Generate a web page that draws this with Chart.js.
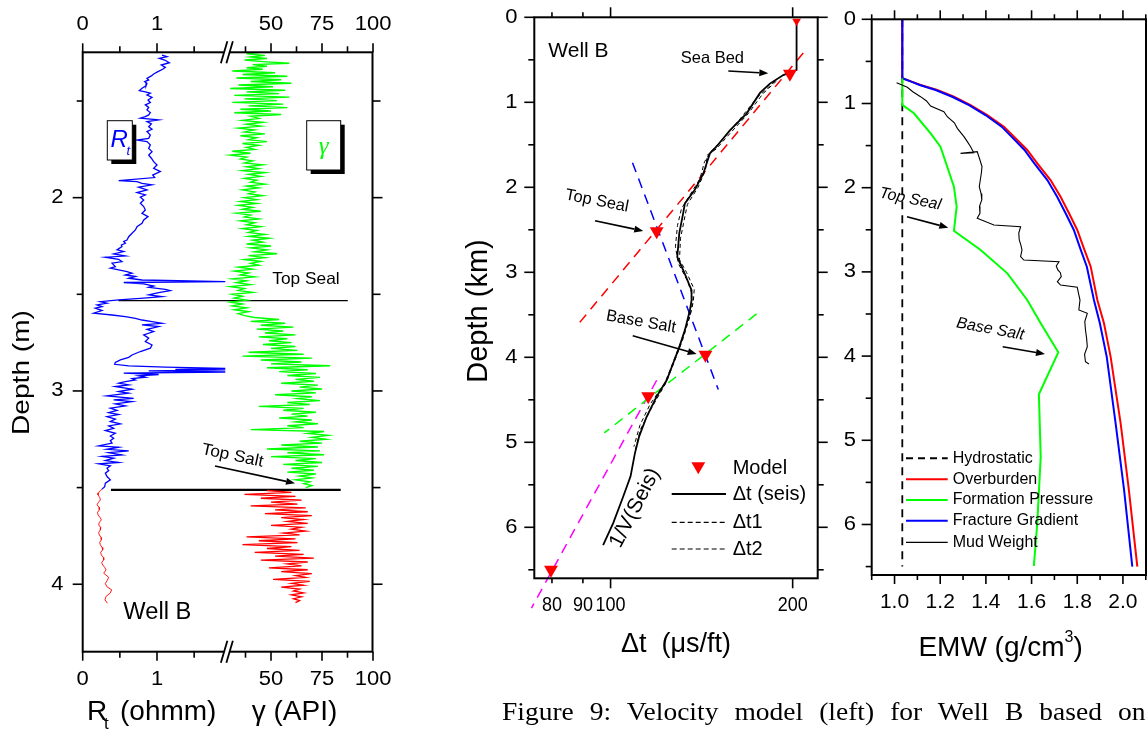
<!DOCTYPE html>
<html>
<head>
<meta charset="utf-8">
<script src="https://cdn.jsdelivr.net/npm/chart.js@4.4.0/dist/chart.umd.min.js"></script>
<style>
  html, body { margin: 0; padding: 0; background: #fff; }
  #wrap { position: relative; width: 1147px; height: 734px; overflow: hidden; }
  canvas { position: absolute; left: 0; top: 0; }
  #caption { position: absolute; left: 502px; top: 699px; width: 585px;
    transform: scaleX(1.1); transform-origin: 0 0;
    font-family: "Liberation Serif", "Times New Roman", serif; font-size: 25px; line-height: 25px;
    text-align: justify; text-align-last: justify; color: #000; }
</style>
</head>
<body>
<div id="wrap">
  <canvas id="logChart" width="1147" height="734"></canvas>
  <canvas id="velChart" width="1147" height="734"></canvas>
  <canvas id="emwChart" width="1147" height="734"></canvas>
  <div id="caption">Figure 9: Velocity model (left) for Well B based on</div>
</div>
<script>
// ---------- left panel: well log, [depth, value] ----------
const rtShale = [[1.262,1.067],[1.270,1.135],[1.279,1.031],[1.288,1.103],[1.302,1.166],[1.314,1.058],[1.326,1.112],[1.336,1.076],[1.348,1.013],[1.360,0.955],[1.370,0.924],[1.383,0.865],[1.391,0.888],[1.400,0.834],[1.408,0.865],[1.422,0.852],[1.434,0.798],[1.446,0.762],[1.453,0.843],[1.460,0.910],[1.469,0.865],[1.481,0.933],[1.495,0.879],[1.508,0.910],[1.520,0.843],[1.533,0.888],[1.546,0.865],[1.560,0.910],[1.572,0.888],[1.581,0.843],[1.589,0.776],[1.598,1.022],[1.607,0.865],[1.619,0.924],[1.633,0.888],[1.646,0.933],[1.658,0.865],[1.676,0.910],[1.693,0.888],[1.702,0.731],[1.710,0.865],[1.727,0.910],[1.745,0.888],[1.762,0.933],[1.779,0.888],[1.796,0.924],[1.814,0.955],[1.831,1.000],[1.848,0.955],[1.865,1.045],[1.883,0.942],[1.896,0.969],[1.912,0.484],[1.917,0.731],[1.926,0.798],[1.934,0.933],[1.946,0.753],[1.960,0.865],[1.974,0.731],[1.986,0.843],[1.998,0.776],[2.012,0.821],[2.029,0.776],[2.046,0.821],[2.064,0.843],[2.081,0.798],[2.098,0.879],[2.115,0.821],[2.133,0.798],[2.150,0.731],[2.167,0.709],[2.184,0.664],[2.202,0.619],[2.219,0.596],[2.227,0.552],[2.236,0.574],[2.245,0.520],[2.253,0.529],[2.270,0.462],[2.279,0.552],[2.291,0.417],[2.302,0.574],[2.308,0.305],[2.319,0.484],[2.331,0.529],[2.339,0.395],[2.357,0.439],[2.365,0.372],[2.374,0.484],[2.383,0.596],[2.391,0.664],[2.400,0.574],[2.408,0.709],[2.417,0.619],[2.426,0.798],[2.434,1.919],[2.439,0.552],[2.446,0.821],[2.457,0.955],[2.464,0.888],[2.474,1.112],[2.481,1.179],[2.491,1.022],[2.503,0.888],[2.512,1.067],[2.520,0.821],[2.529,0.484],[2.538,0.238],[2.546,0.327],[2.555,0.193],[2.564,0.260],[2.572,0.170],[2.584,0.260],[2.598,0.148],[2.607,0.395],[2.615,0.574],[2.624,0.709],[2.633,0.798],[2.641,0.933],[2.650,1.067],[2.658,0.798],[2.667,1.022],[2.681,0.865],[2.693,0.955],[2.710,0.821],[2.727,0.888],[2.745,0.843],[2.762,0.933],[2.779,0.910],[2.796,0.776],[2.814,0.664],[2.826,0.619],[2.839,0.507],[2.853,0.439],[2.862,0.430],[2.870,0.619],[2.877,1.112],[2.883,1.919],[2.888,1.247],[2.891,1.919],[2.896,0.888],[2.902,1.919],[2.908,0.552],[2.915,1.022],[2.922,0.753],[2.929,0.843],[2.936,0.664],[2.943,0.709],[2.952,0.574],[2.960,0.484],[2.969,0.619],[2.977,0.439],[2.991,0.664],[3.003,0.484],[3.012,0.619],[3.026,0.327],[3.038,0.686],[3.046,0.417],[3.055,0.664],[3.067,0.439],[3.077,0.574],[3.089,0.372],[3.101,0.462],[3.112,0.350],[3.122,0.484],[3.133,0.327],[3.146,0.439],[3.158,0.372],[3.170,0.507],[3.181,0.350],[3.193,0.417],[3.205,0.305],[3.219,0.439],[3.233,0.372],[3.245,0.417],[3.257,0.372],[3.270,0.395],[3.284,0.215],[3.291,0.484],[3.302,0.327],[3.310,0.619],[3.319,0.350],[3.331,0.529],[3.339,0.260],[3.348,0.417],[3.360,0.305],[3.370,0.484],[3.377,0.215],[3.388,0.372],[3.400,0.327],[3.412,0.350],[3.426,0.305],[3.443,0.327],[3.460,0.372],[3.477,0.305],[3.495,0.296],[3.508,0.260]];
const rtSalt = [[3.508,0.260],[3.515,0.238],[3.527,0.215],[3.538,0.206],[3.551,0.229],[3.564,0.238],[3.577,0.211],[3.589,0.193],[3.602,0.220],[3.615,0.224],[3.628,0.200],[3.641,0.206],[3.654,0.233],[3.667,0.251],[3.680,0.224],[3.693,0.215],[3.706,0.242],[3.719,0.238],[3.732,0.215],[3.745,0.224],[3.758,0.247],[3.770,0.251],[3.783,0.229],[3.796,0.238],[3.809,0.260],[3.822,0.269],[3.835,0.242],[3.848,0.251],[3.861,0.278],[3.874,0.283],[3.887,0.256],[3.900,0.269],[3.913,0.296],[3.926,0.314],[3.943,0.283],[3.964,0.350],[3.980,0.330],[3.996,0.305],[4.012,0.323],[4.029,0.390],[4.046,0.370],[4.063,0.314],[4.081,0.300],[4.098,0.332]];
const gammaShale = [[1.248,45],[1.256,38],[1.264,47],[1.272,40],[1.280,48],[1.288,37],[1.296,46],[1.305,59],[1.312,41],[1.320,48],[1.328,38],[1.336,46],[1.345,31],[1.354,52],[1.363,36],[1.372,58],[1.381,33],[1.390,55],[1.399,40],[1.408,60],[1.417,34],[1.426,51],[1.435,30],[1.444,57],[1.453,38],[1.462,54],[1.471,32],[1.480,59],[1.489,37],[1.498,53],[1.507,31],[1.516,56],[1.525,39],[1.534,58],[1.543,35],[1.552,50],[1.561,32],[1.570,55],[1.579,40],[1.590,44],[1.600,36],[1.610,46],[1.620,38],[1.630,45],[1.640,34],[1.650,42],[1.660,37],[1.670,47],[1.680,35],[1.690,43],[1.700,39],[1.710,48],[1.720,36],[1.730,44],[1.740,38],[1.750,42],[1.760,31],[1.770,40],[1.780,30],[1.790,38],[1.800,35],[1.810,41],[1.820,37],[1.830,46],[1.840,38],[1.850,44],[1.860,36],[1.870,47],[1.880,39],[1.890,45],[1.900,37],[1.910,43],[1.920,40],[1.930,47],[1.940,38],[1.950,44],[1.960,36],[1.970,42],[1.980,39],[1.990,46],[2.000,37],[2.010,43],[2.020,35],[2.030,43],[2.040,34],[2.050,41],[2.060,36],[2.070,45],[2.080,33],[2.090,40],[2.100,37],[2.110,44],[2.120,35],[2.130,42],[2.140,38],[2.150,45],[2.160,36],[2.170,43],[2.180,39],[2.190,47],[2.200,39],[2.210,49],[2.220,41],[2.230,46],[2.240,38],[2.250,50],[2.260,40],[2.270,48],[2.280,42],[2.290,53],[2.300,39],[2.310,47],[2.320,37],[2.330,45],[2.340,40],[2.350,44],[2.360,34],[2.370,41],[2.380,32],[2.390,39],[2.400,35],[2.410,42],[2.420,31],[2.430,38],[2.440,33],[2.450,40],[2.460,30],[2.470,37],[2.480,34],[2.490,41],[2.500,31],[2.510,36],[2.520,32],[2.530,38],[2.540,30],[2.550,36],[2.560,31],[2.570,38],[2.580,32],[2.590,39],[2.600,34],[2.610,37],[2.620,42],[2.630,54],[2.640,40],[2.650,57],[2.660,45],[2.670,61],[2.680,43],[2.690,56],[2.700,47],[2.710,62],[2.720,44],[2.730,58],[2.740,49],[2.750,60],[2.760,46],[2.770,62],[2.780,50],[2.790,63],[2.800,39],[2.810,66],[2.820,36],[2.830,70],[2.840,45],[2.850,65],[2.860,50],[2.870,79],[2.880,48],[2.890,68],[2.900,54],[2.910,72],[2.920,58],[2.930,74],[2.940,62],[2.950,71],[2.960,55],[2.970,73],[2.980,64],[2.990,75],[3.000,60],[3.010,72],[3.020,52],[3.030,70],[3.040,63],[3.050,74],[3.060,58],[3.070,69],[3.080,44],[3.090,66],[3.100,56],[3.110,72],[3.120,60],[3.130,68],[3.140,54],[3.150,70],[3.160,62],[3.170,73],[3.180,58],[3.190,66],[3.200,40],[3.210,76],[3.220,68],[3.230,78],[3.240,70],[3.250,77],[3.260,64],[3.270,75],[3.280,55],[3.290,73],[3.300,48],[3.310,74],[3.320,58],[3.330,76],[3.340,50],[3.350,72],[3.360,62],[3.370,75],[3.380,56],[3.390,73],[3.400,60],[3.410,71],[3.420,58],[3.430,72],[3.440,64],[3.450,70],[3.460,62],[3.470,69],[3.480,66],[3.490,70],[3.500,67]];
const gammaSalt = [[3.515,48],[3.525,60],[3.535,37],[3.545,62],[3.555,45],[3.565,65],[3.575,50],[3.585,63],[3.595,40],[3.605,67],[3.615,52],[3.625,68],[3.635,47],[3.645,70],[3.655,55],[3.665,66],[3.675,58],[3.685,68],[3.695,50],[3.705,65],[3.715,60],[3.725,67],[3.735,56],[3.745,64],[3.755,38],[3.765,62],[3.775,44],[3.785,63],[3.795,36],[3.805,60],[3.815,48],[3.825,64],[3.835,42],[3.845,66],[3.855,52],[3.865,71],[3.875,45],[3.885,68],[3.895,58],[3.905,65],[3.915,49],[3.925,68],[3.935,55],[3.945,70],[3.955,62],[3.965,67],[3.975,51],[3.985,69],[3.995,60],[4.005,66],[4.015,55],[4.025,64],[4.035,61],[4.045,66],[4.055,60],[4.065,65],[4.075,61],[4.085,64],[4.095,62]];
// horizon markers: [depth, Rt from, Rt to]
const topSealLine = [2.533, 0.48, 3.567];
const topSaltLine = [3.512, 0.38, 3.472];
const rtTicks = [0, 1], rtMinor = [0.5, 1.5];
const gammaTicks = [50, 75, 100], gammaMinor = [37.5, 62.5, 87.5];
const logDepthTicks = [2, 3, 4], logDepthMinor = [1.5, 2.5, 3.5];
const rtBreak = 1.94;

// ---------- middle panel: velocity model, [dt (us/ft), depth (km)] ----------
const modelPts = [[203,0.047],[197.9,0.665],[119.2,2.518],[143.5,3.969],[115.4,4.459],[79.7,6.5]];
const dtSeis = [[203,0.047],[203,0.62],[193,0.68],[183.4,0.78],[176.6,0.89],[167.9,1.13],[157.5,1.33],[149.7,1.52],[146,1.6],[142.3,1.84],[137.8,2.03],[132.7,2.19],[131.8,2.31],[129.9,2.54],[128.9,2.82],[131.8,2.97],[136.1,3.21],[136.1,3.33],[135.3,3.44],[132.7,3.68],[129.9,3.88],[126.9,4.07],[123.8,4.27],[119.2,4.46],[114.7,4.70],[111.5,4.93],[109.7,5.13],[107.9,5.40],[104.9,5.64],[101,5.95],[97.2,6.21]];
const dt1 = [[188,0.75],[178.5,0.9],[169,1.13],[156,1.4],[149.5,1.55],[144.5,1.62],[143.5,1.8],[139.5,2.0],[134,2.2],[133,2.31],[130.5,2.6],[130,2.85],[133.5,3.0],[137.5,3.2],[137,3.35],[135.4,3.5],[131,3.8],[127,4.05],[123,4.3],[116.3,4.55],[111.8,4.8],[109.3,5.05]];
const dt2 = [[187,0.75],[174.5,0.95],[163.5,1.2],[152.5,1.45],[146.5,1.58],[143,1.7],[140.5,1.9],[135,2.1],[131,2.25],[129,2.45],[128,2.7],[129.5,2.9],[134,3.1],[137,3.3],[135.5,3.5],[131.5,3.8],[127.5,4.05],[123.5,4.3],[116.8,4.6],[112,4.85],[109.8,5.1]];
const trendRed = [[208.2,0.42],[88.9,3.59]];
const trendBlue = [[108.7,1.71],[150.7,4.38]];
const trendGreen = [[174.3,3.49],[97.6,4.89]];
const trendMagenta = [[119.2,4.27],[74.0,6.95]];
const dtLabels = [80, 90, 100, 200], dtMajor = [100, 200], dtMinor = [80, 90];
const depthTicks = [0, 1, 2, 3, 4, 5, 6], depthMinor = [0.5, 1.5, 2.5, 3.5, 4.5, 5.5, 6.5];

// ---------- right panel: EMW, [depth (km), g/cm3] ----------
const hydrostatic = [[0,1.034],[6.5,1.034]];
const overburden = [[0,1.034],[0.70,1.034],[0.74,1.075],[0.78,1.114],[0.84,1.187],[0.92,1.26],[1.02,1.333],[1.137,1.406],[1.275,1.479],[1.394,1.523],[1.552,1.581],[1.71,1.625],[1.909,1.683],[2.107,1.727],[2.304,1.764],[2.502,1.80],[2.72,1.829],[2.938,1.859],[3.334,1.888],[3.61,1.917],[4.007,1.946],[4.798,1.99],[5.59,2.026],[6.501,2.063]];
const fracture = [[0,1.034],[0.70,1.034],[0.74,1.073],[0.78,1.110],[0.84,1.18],[0.92,1.252],[1.02,1.326],[1.137,1.398],[1.275,1.469],[1.394,1.512],[1.552,1.569],[1.71,1.612],[1.909,1.669],[2.107,1.712],[2.304,1.749],[2.502,1.785],[2.72,1.813],[2.938,1.842],[3.334,1.873],[3.61,1.899],[4.007,1.929],[4.798,1.968],[5.59,2.005],[6.501,2.041]];
const formation = [[0.70,1.034],[1.017,1.034],[1.116,1.085],[1.354,1.158],[1.513,1.201],[1.632,1.216],[1.988,1.26],[2.226,1.272],[2.511,1.26],[2.74,1.377],[3.017,1.494],[3.334,1.581],[3.61,1.64],[3.955,1.717],[4.454,1.632],[5.195,1.64],[5.986,1.625],[6.493,1.61]];
const mudWeight = [[0.753,1.009],[0.808,1.056],[0.86,1.08],[0.919,1.114],[0.97,1.14],[1.03,1.158],[1.097,1.216],[1.157,1.231],[1.23,1.262],[1.295,1.275],[1.394,1.304],[1.45,1.318],[1.513,1.333],[1.584,1.347],[1.592,1.289],[1.572,1.362],[1.671,1.374],[1.75,1.383],[1.829,1.38],[1.9,1.376],[1.988,1.371],[2.07,1.379],[2.146,1.382],[2.22,1.372],[2.304,1.374],[2.363,1.362],[2.443,1.435],[2.463,1.552],[2.54,1.544],[2.621,1.546],[2.68,1.553],[2.74,1.558],[2.819,1.552],[2.859,1.566],[2.879,1.72],[2.93,1.708],[2.977,1.715],[3.01,1.726],[3.057,1.73],[3.116,1.713],[3.156,1.727],[3.183,1.80],[3.26,1.806],[3.334,1.812],[3.452,1.807],[3.492,1.844],[3.59,1.833],[3.69,1.836],[3.79,1.841],[3.888,1.844],[3.98,1.832],[4.067,1.836],[4.094,1.851]];
const emwTicks = [1.0, 1.2, 1.4, 1.6, 1.8, 2.0], emwMinor = [0.9, 1.1, 1.3, 1.5, 1.7, 1.9, 2.1];
const emwLegend = ['Hydrostatic', 'Overburden', 'Formation Pressure', 'Fracture Gradient', 'Mud Weight'];

// ---------- drawing helpers ----------
const FONT = '"Liberation Sans", Arial, Helvetica, sans-serif';
function txt(ctx, s, x, y, o = {}) {
  ctx.save();
  ctx.translate(x, y);
  if (o.rot) ctx.rotate(o.rot * Math.PI / 180);
  ctx.scale(o.sx || 1, 1);
  ctx.font = (o.style || '') + ' ' + (o.size || 19) + 'px ' + (o.family || FONT);
  ctx.fillStyle = o.color || '#000';
  ctx.textAlign = o.align || 'center';
  ctx.textBaseline = o.base || 'middle';
  ctx.fillText(s, 0, 0);
  ctx.restore();
}
function seg(ctx, x1, y1, x2, y2, lw, color, dash) {
  ctx.save();
  ctx.strokeStyle = color || '#000';
  ctx.lineWidth = lw || 1.5;
  ctx.setLineDash(dash || []);
  ctx.beginPath(); ctx.moveTo(x1, y1); ctx.lineTo(x2, y2); ctx.stroke();
  ctx.restore();
}
function arrow(ctx, x1, y1, x2, y2) {
  const a = Math.atan2(y2 - y1, x2 - x1), h = 9, w = 3.5;
  const bx = x2 - h * Math.cos(a), by = y2 - h * Math.sin(a);
  seg(ctx, x1, y1, bx, by, 1.6);
  ctx.save();
  ctx.fillStyle = '#000';
  ctx.beginPath();
  ctx.moveTo(x2, y2);
  ctx.lineTo(bx + w * Math.sin(a), by - w * Math.cos(a));
  ctx.lineTo(bx - w * Math.sin(a), by + w * Math.cos(a));
  ctx.closePath(); ctx.fill();
  ctx.restore();
}
function frame(ctx, a) {
  ctx.save();
  ctx.strokeStyle = '#000'; ctx.lineWidth = 2;
  ctx.strokeRect(a.left, a.top, a.right - a.left, a.bottom - a.top);
  ctx.restore();
}
function ticksX(ctx, sc, vals, y, dir, len) {
  vals.forEach(v => { const p = sc.getPixelForValue(v); seg(ctx, p, y, p, y + dir * len, 1.6); });
}
function ticksY(ctx, sc, vals, x, dir, len) {
  vals.forEach(v => { const p = sc.getPixelForValue(v); seg(ctx, x, p, x + dir * len, p, 1.6); });
}
function shadowBox(ctx, x, y, w, h) {
  ctx.save();
  ctx.fillStyle = '#000'; ctx.fillRect(x + 4, y + 4, w, h);
  ctx.fillStyle = '#fff'; ctx.fillRect(x, y, w, h);
  ctx.strokeStyle = '#000'; ctx.lineWidth = 1; ctx.strokeRect(x, y, w, h);
  ctx.restore();
}
function downTriangle(ctx, x, y, r) {
  ctx.save();
  ctx.fillStyle = '#ff0000';
  ctx.beginPath();
  ctx.moveTo(x - r * 0.866, y - r * 0.5);
  ctx.lineTo(x + r * 0.866, y - r * 0.5);
  ctx.lineTo(x, y + r);
  ctx.closePath(); ctx.fill();
  ctx.restore();
}
const pts = (arr, xi, yi) => arr.map(p => ({ x: p[xi], y: p[yi] }));
const baseOpts = (pad, scales) => ({
  responsive: false, animation: false, events: [],
  layout: { padding: pad },
  scales,
  plugins: { legend: { display: false }, tooltip: { enabled: false } },
  elements: { point: { radius: 0 }, line: { tension: 0 } }
});
const lineDs = (data, color, lw, extra = {}) => Object.assign({
  data, showLine: true, borderColor: color, backgroundColor: color, borderWidth: lw,
  pointRadius: 0, fill: false
}, extra);
const TICK = { size: 20, sx: 1.1 };

// ---------- left chart ----------
const logDeco = {
  id: 'logDeco',
  afterDatasetsDraw(chart) {
    const ctx = chart.ctx;
    shadowBox(ctx, 107.3, 120.7, 25, 39.3);
    txt(ctx, 'R', 110.5, 147, { size: 24, style: 'italic', color: '#0000ff', align: 'left', base: 'alphabetic' });
    txt(ctx, 't', 126.5, 154.5, { size: 13, style: 'italic', color: '#0000ff', align: 'left', base: 'alphabetic' });
    shadowBox(ctx, 306.7, 120.7, 34, 49.3);
    txt(ctx, 'γ', 323.7, 147, { size: 25, style: 'italic', color: '#00ff00', family: '"Liberation Serif", serif' });
  },
  afterDraw(chart) {
    const ctx = chart.ctx, a = chart.chartArea;
    const xR = chart.scales.xR, xG = chart.scales.xG, y = chart.scales.y;
    frame(ctx, a);
    [[a.top, -1], [a.bottom, 1]].forEach(([yy, dir]) => {
      ticksX(ctx, xR, rtTicks, yy, dir, 9); ticksX(ctx, xR, rtMinor, yy, dir, 6);
      ticksX(ctx, xG, gammaTicks, yy, dir, 9); ticksX(ctx, xG, gammaMinor, yy, dir, 6);
      const bx = xR.getPixelForValue(rtBreak);
      ctx.save(); ctx.fillStyle = '#fff'; ctx.fillRect(bx - 3, yy - 3, 6, 6); ctx.restore();
      seg(ctx, bx - 6, yy + 11, bx + 0.5, yy - 11, 1.8);
      seg(ctx, bx - 0.5, yy + 11, bx + 6, yy - 11, 1.8);
    });
    ticksY(ctx, y, logDepthTicks, a.left, -1, 10); ticksY(ctx, y, logDepthMinor, a.left, -1, 6);
    ticksY(ctx, y, logDepthTicks, a.right, 1, 10); ticksY(ctx, y, logDepthMinor, a.right, 1, 8);
    [[24.7], [679]].forEach(([ly]) => {
      rtTicks.forEach(v => txt(ctx, String(v), xR.getPixelForValue(v), ly, TICK));
      gammaTicks.forEach(v => txt(ctx, String(v), xG.getPixelForValue(v), ly, TICK));
    });
    logDepthTicks.forEach(v => txt(ctx, String(v), 63.5, y.getPixelForValue(v), Object.assign({ align: 'right' }, TICK)));
    txt(ctx, 'Depth (m)', 22.5, 372.5, { size: 24, sx: 1.17, rot: -90 });
    txt(ctx, 'R', 87, 720, { size: 28, align: 'left', base: 'alphabetic' });
    txt(ctx, 't', 104, 729, { size: 17, align: 'left', base: 'alphabetic' });
    txt(ctx, '(ohmm)', 120, 720, { size: 28, align: 'left', base: 'alphabetic' });
    txt(ctx, 'γ (API)', 251.7, 720, { size: 28, align: 'left', base: 'alphabetic' });
    txt(ctx, 'Top Seal', 306, 279.3, { size: 16.5, sx: 1.05 });
    txt(ctx, 'Top Salt', 232.5, 455.8, { size: 16.5, sx: 1.05, rot: 12 });
    arrow(ctx, 215, 466, 295, 483.3);
    txt(ctx, 'Well B', 123.3, 612.7, { size: 23, sx: 1.03, align: 'left' });
  }
};
new Chart(document.getElementById('logChart'), {
  type: 'scatter',
  data: { datasets: [
    lineDs(pts(rtShale, 1, 0), '#0000ff', 1.3, { xAxisID: 'xR', yAxisID: 'y' }),
    lineDs(pts(rtSalt, 1, 0), '#ff0000', 0.9, { xAxisID: 'xR', yAxisID: 'y' }),
    lineDs(pts(gammaShale, 1, 0), '#00ff00', 1.4, { xAxisID: 'xG', yAxisID: 'y' }),
    lineDs(pts(gammaSalt, 1, 0), '#ff0000', 1.3, { xAxisID: 'xG', yAxisID: 'y' }),
    lineDs([{ x: topSealLine[1], y: topSealLine[0] }, { x: topSealLine[2], y: topSealLine[0] }], '#000', 1.2, { xAxisID: 'xR', yAxisID: 'y' }),
    lineDs([{ x: topSaltLine[1], y: topSaltLine[0] }, { x: topSaltLine[2], y: topSaltLine[0] }], '#000', 2.2, { xAxisID: 'xR', yAxisID: 'y' })
  ] },
  options: baseOpts({ left: 82.7, top: 52.3, right: 1147 - 372.5, bottom: 734 - 651.7 }, {
    xR: { axis: 'x', type: 'linear', position: 'bottom', min: 0, max: 3.9, display: false },
    xG: { axis: 'x', type: 'linear', position: 'bottom', min: -42.3, max: 99.75, display: false },
    y: { axis: 'y', type: 'linear', reverse: true, min: 1.248, max: 4.349, display: false }
  }),
  plugins: [logDeco]
});

// ---------- middle chart ----------
const velDeco = {
  id: 'velDeco',
  afterDraw(chart) {
    const ctx = chart.ctx, a = chart.chartArea, x = chart.scales.x, y = chart.scales.y;
    frame(ctx, a);
    ticksY(ctx, y, depthTicks, a.left, -1, 10); ticksY(ctx, y, depthMinor, a.left, -1, 6);
    ticksY(ctx, y, depthTicks, a.right, 1, 10); ticksY(ctx, y, depthMinor, a.right, 1, 6);
    ticksX(ctx, x, dtMajor, a.top, -1, 10); ticksX(ctx, x, dtMinor, a.top, -1, 5);
    ticksX(ctx, x, dtMajor, a.bottom, 1, 10); ticksX(ctx, x, dtMinor, a.bottom, 1, 5);
    depthTicks.forEach(v => txt(ctx, String(v), 517.5, y.getPixelForValue(v), Object.assign({ align: 'right' }, TICK)));
    dtLabels.forEach(v => txt(ctx, String(v), x.getPixelForValue(v), 605.5, { size: 20, sx: 0.9 }));
    txt(ctx, 'Depth (km)', 479, 311, { size: 29, rot: -90 });
    txt(ctx, 'Δt  (μs/ft)', 676, 645, { size: 27 });
    txt(ctx, 'Well B', 548.3, 51.7, { size: 21, align: 'left' });
    txt(ctx, 'Sea Bed', 680.7, 58.3, { size: 16.5, align: 'left' });
    arrow(ctx, 728.3, 71, 768.3, 73.3);
    txt(ctx, 'Top Seal', 597, 201, { size: 16.5, rot: 11 });
    arrow(ctx, 595, 220.7, 643.3, 231);
    txt(ctx, 'Base Salt', 641, 322, { size: 16.5, rot: 10 });
    arrow(ctx, 632.7, 335.7, 696.7, 354);
    txt(ctx, '1/V(Seis)', 635, 508, { size: 21, rot: -62.6 });
    // legend
    downTriangle(ctx, 698.3, 466.3, 8);
    txt(ctx, 'Model', 732.7, 468, { size: 20, align: 'left' });
    seg(ctx, 671.7, 494, 726, 494, 2);
    txt(ctx, 'Δt (seis)', 732.7, 494, { size: 20, align: 'left' });
    seg(ctx, 671.7, 522.3, 726, 522.3, 1.2, '#000', [5, 3]);
    txt(ctx, 'Δt1', 732.7, 522.3, { size: 20, align: 'left' });
    seg(ctx, 671.7, 549, 726, 549, 1.2, '#000', [5, 3]);
    txt(ctx, 'Δt2', 732.7, 549, { size: 20, align: 'left' });
  }
};
new Chart(document.getElementById('velChart'), {
  type: 'scatter',
  data: { datasets: [
    { data: pts(modelPts, 0, 1), pointStyle: 'triangle', rotation: 180, pointRadius: [5, 8, 8, 8, 8, 8],
      backgroundColor: '#ff0000', borderWidth: 0, borderColor: '#ff0000', order: 0 },
    lineDs(pts(dtSeis, 0, 1), '#000', 1.8, { order: 1 }),
    lineDs(pts(dt1, 0, 1), '#000', 1, { borderDash: [4, 3], order: 2 }),
    lineDs(pts(dt2, 0, 1), '#000', 1, { borderDash: [4, 3], order: 2 }),
    lineDs(pts(trendRed, 0, 1), '#ff0000', 1.5, { borderDash: [10, 7], order: 3 }),
    lineDs(pts(trendBlue, 0, 1), '#0000ff', 1.5, { borderDash: [10, 7], order: 3 }),
    lineDs(pts(trendGreen, 0, 1), '#00ff00', 1.5, { borderDash: [10, 7], order: 3 }),
    lineDs(pts(trendMagenta, 0, 1), '#ff00ff', 1.5, { borderDash: [10, 7], order: 3, clip: false })
  ] },
  options: baseOpts({ left: 534.3, top: 17.3, right: 1147 - 817.7, bottom: 734 - 578.3 }, {
    x: { type: 'logarithmic', min: 74.8, max: 220, display: false },
    y: { type: 'linear', reverse: true, min: 0, max: 6.6, display: false }
  }),
  plugins: [velDeco]
});

// ---------- right chart ----------
const emwDeco = {
  id: 'emwDeco',
  afterDraw(chart) {
    const ctx = chart.ctx, a = chart.chartArea, x = chart.scales.x, y = chart.scales.y;
    frame(ctx, a);
    ticksY(ctx, y, depthTicks, a.left, -1, 10); ticksY(ctx, y, depthMinor, a.left, -1, 6);
    ticksX(ctx, x, emwTicks, a.top, -1, 9); ticksX(ctx, x, emwMinor, a.top, -1, 5);
    ticksX(ctx, x, emwTicks, a.bottom, 1, 9); ticksX(ctx, x, emwMinor, a.bottom, 1, 5);
    depthTicks.forEach(v => txt(ctx, String(v), 856, y.getPixelForValue(v), Object.assign({ align: 'right' }, TICK)));
    emwTicks.forEach(v => txt(ctx, v.toFixed(1), x.getPixelForValue(v), 602, { size: 20, sx: 1.05 }));
    // title with superscript
    ctx.save();
    ctx.font = '28px ' + FONT;
    const w1 = ctx.measureText('EMW (g/cm').width;
    ctx.font = '16px ' + FONT;
    const w2 = ctx.measureText('3').width;
    ctx.font = '28px ' + FONT;
    const w3 = ctx.measureText(')').width;
    ctx.restore();
    const x0 = 1000.6 - (w1 + w2 + w3) / 2;
    txt(ctx, 'EMW (g/cm', x0, 656, { size: 28, align: 'left', base: 'alphabetic' });
    txt(ctx, '3', x0 + w1, 642, { size: 16, align: 'left', base: 'alphabetic' });
    txt(ctx, ')', x0 + w1 + w2, 656, { size: 28, align: 'left', base: 'alphabetic' });
    txt(ctx, 'Top Seal', 910.2, 199.2, { size: 16, style: 'italic', rot: 11.5 });
    arrow(ctx, 907, 216.7, 948.3, 227.7);
    txt(ctx, 'Base Salt', 990.3, 329.2, { size: 16, style: 'italic', rot: 10.5 });
    arrow(ctx, 1002.7, 346.7, 1045, 354);
    // legend
    const rows = [458.3, 479.3, 500, 520.7, 542.3];
    const styles = [['#000', 2, [7, 5]], ['#ff0000', 2, []], ['#00ff00', 2, []], ['#0000ff', 2, []], ['#000', 1.2, []]];
    emwLegend.forEach((lab, i) => {
      seg(ctx, 906, rows[i], 947.7, rows[i], styles[i][1], styles[i][0], styles[i][2]);
      txt(ctx, lab, 952.7, rows[i], { size: 16, align: 'left' });
    });
  }
};
new Chart(document.getElementById('emwChart'), {
  type: 'scatter',
  data: { datasets: [
    lineDs(pts(hydrostatic, 1, 0), '#000', 1.8, { borderDash: [8, 6], order: 5 }),
    lineDs(pts(overburden, 1, 0), '#ff0000', 2, { order: 4 }),
    lineDs(pts(fracture, 1, 0), '#0000ff', 2, { order: 3 }),
    lineDs(pts(formation, 1, 0), '#00ff00', 2, { order: 2 }),
    lineDs(pts(mudWeight, 1, 0), '#000', 1.1, { order: 1 })
  ] },
  options: baseOpts({ left: 871.7, top: 19.3, right: 1147 - 1146, bottom: 734 - 575 }, {
    x: { type: 'linear', min: 0.9, max: 2.101, display: false },
    y: { type: 'linear', reverse: true, min: 0, max: 6.6, display: false }
  }),
  plugins: [emwDeco]
});
</script>
</body>
</html>
